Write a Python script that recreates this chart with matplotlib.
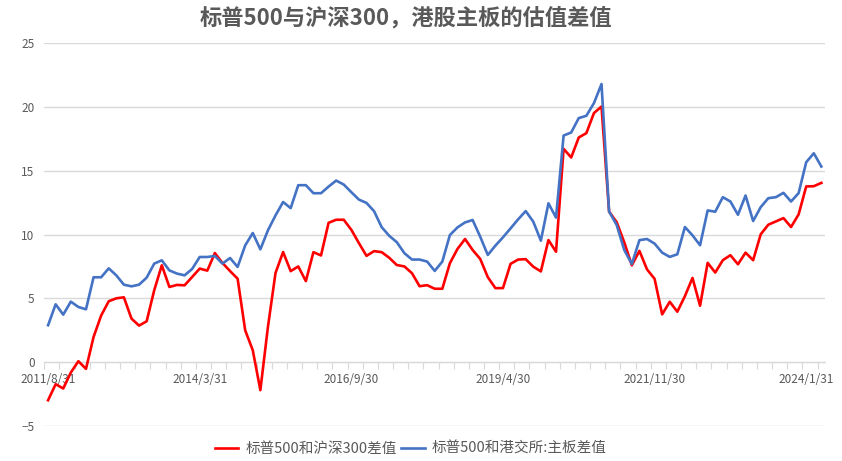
import matplotlib
matplotlib.use("Agg")
import matplotlib.pyplot as plt
from matplotlib.ticker import FixedLocator, NullFormatter
import numpy as np

plt.rcParams['font.family'] = ['Noto Sans CJK SC', 'DejaVu Sans']

title = "标普500与沪深300，港股主板的估值差值"
series_names = ["标普500和沪深300差值", "标普500和港交所:主板差值"]

tick_labels = ["2011/8/31", "2014/3/31", "2016/9/30", "2019/4/30", "2021/11/30", "2024/1/31"]
tick_label_index = [0, 20, 40, 60, 80, 100]

spx_csi300 = [
    -2.98, -1.72, -2.06, -0.81, 0.08, -0.52, 1.98, 3.66, 4.78, 5.01,
    5.09, 3.42, 2.87, 3.21, 5.64, 7.60, 5.90, 6.06, 6.03, 6.68,
    7.34, 7.18, 8.56, 7.78, 7.15, 6.55, 2.50, 0.94, -2.19, 2.77,
    7.00, 8.64, 7.14, 7.51, 6.36, 8.63, 8.37, 10.93, 11.17, 11.17,
    10.38, 9.34, 8.34, 8.71, 8.63, 8.19, 7.62, 7.51, 6.98, 5.96,
    6.04, 5.76, 5.76, 7.76, 8.88, 9.66, 8.80, 8.10, 6.67, 5.81,
    5.81, 7.71, 8.05, 8.08, 7.49, 7.12, 9.58, 8.66, 16.73, 16.05,
    17.62, 17.96, 19.53, 20.05, 11.81, 10.98, 9.40, 7.60, 8.73, 7.28,
    6.54, 3.75, 4.74, 3.96, 5.18, 6.61, 4.43, 7.79, 7.03, 8.00,
    8.39, 7.68, 8.59, 8.00, 10.03, 10.78, 11.04, 11.30, 10.60, 11.59,
    13.78, 13.80, 14.06,
]

spx_hkex_main = [
    2.90, 4.54, 3.73, 4.75, 4.33, 4.15, 6.66, 6.66, 7.36, 6.81,
    6.08, 5.95, 6.08, 6.63, 7.73, 7.99, 7.20, 6.95, 6.81, 7.31,
    8.25, 8.25, 8.33, 7.73, 8.17, 7.47, 9.16, 10.13, 8.85, 10.34,
    11.51, 12.56, 12.08, 13.88, 13.88, 13.25, 13.25, 13.77, 14.24, 13.93,
    13.33, 12.75, 12.49, 11.84, 10.59, 9.91, 9.41, 8.55, 8.05, 8.05,
    7.89, 7.16, 7.89, 9.97, 10.57, 10.96, 11.15, 9.84, 8.41, 9.14,
    9.79, 10.49, 11.20, 11.85, 11.02, 9.53, 12.46, 11.34, 17.77, 18.01,
    19.14, 19.32, 20.31, 21.81, 11.81, 10.76, 8.80, 7.70, 9.57, 9.66,
    9.30, 8.59, 8.26, 8.46, 10.60, 9.95, 9.17, 11.90, 11.80, 12.94,
    12.60, 11.56, 13.07, 11.07, 12.16, 12.86, 12.94, 13.28, 12.60, 13.26,
    15.68, 16.38, 15.34,
]

n = len(spx_csi300)
x = np.arange(n)

fig = plt.figure(figsize=(8.42, 4.61), dpi=100)
ax = fig.add_axes([0.0526, 0.0759, 0.98 - 0.0526, 0.906 - 0.0759])

grid_c = "#d9d9d9"
text_c = "#595959"

ax.plot(x, spx_csi300, color="#ff0000", lw=1.9, label=series_names[0], zorder=3)
ax.plot(x, spx_hkex_main, color="#4472c4", lw=1.9, label=series_names[1], zorder=3)

ax.set_xlim(-0.5, n - 0.5)
ax.set_ylim(-5, 25)
ax.set_yticks(np.arange(-5, 26, 5))
ax.yaxis.grid(True, color=grid_c, lw=1)
ax.set_axisbelow(True)
ax.tick_params(axis='y', length=0, labelsize=8.5, labelcolor=text_c, pad=7)

for s in ["left", "right", "top"]:
    ax.spines[s].set_visible(False)
ax.spines["bottom"].set_position(("data", 0))
ax.spines["bottom"].set_color(grid_c)

# tick marks between categories, every 2 categories
ax.xaxis.set_major_locator(FixedLocator(np.arange(-0.5, n, 2)))
ax.xaxis.set_major_formatter(NullFormatter())
ax.tick_params(axis='x', which='major', length=5, color=grid_c, direction='out')
# labels at categories
ax.xaxis.set_minor_locator(FixedLocator(tick_label_index))
ax.set_xticklabels(tick_labels, minor=True)
ax.tick_params(axis='x', which='minor', length=0, labelsize=8.5, labelcolor=text_c, pad=8)

fig.suptitle(title, x=0.482, y=0.985, fontsize=16, fontweight='bold', color=text_c, va='top')

leg = fig.legend(loc='lower center', bbox_to_anchor=(0.488, -0.017), ncol=2, frameon=False,
                 fontsize=10.5, handlelength=1.6, columnspacing=0.3, handletextpad=0.5)
for t in leg.get_texts():
    t.set_color(text_c)

fig.savefig("out.png", dpi=100)
